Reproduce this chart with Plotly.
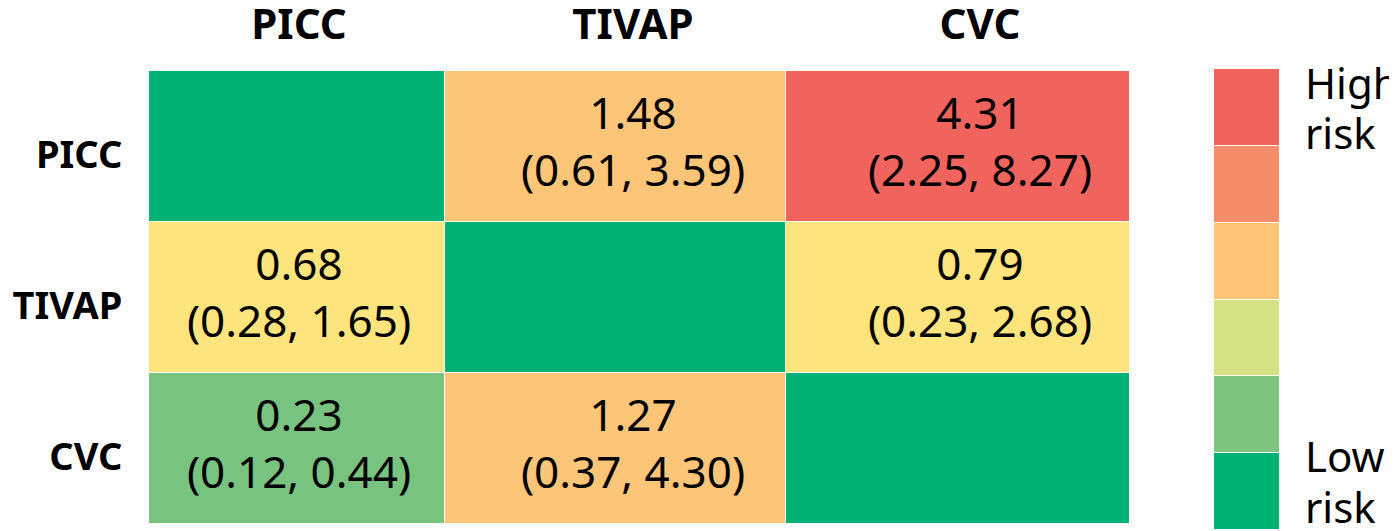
import plotly.graph_objects as go

# ---- data ----
cols = ["PICC", "TIVAP", "CVC"]
rows = ["PICC", "TIVAP", "CVC"]
hr = [[None, 1.48, 4.31],
      [0.68, None, 0.79],
      [0.23, 1.27, None]]
ci_lo = [[None, 0.61, 2.25],
         [0.28, None, 0.23],
         [0.12, 0.37, None]]
ci_hi = [[None, 3.59, 8.27],
         [1.65, None, 2.68],
         [0.44, 4.30, None]]
# colour category for each cell (index into cell_palette)
cell_level = [[0, 3, 4],
              [2, 0, 2],
              [1, 3, 0]]
cell_palette = ["#00b174", "#77c37f", "#fee47c", "#fdc577", "#f1635d"]
legend_palette = ["#00b174", "#80c57f", "#d7e383", "#fec477", "#f58d6b", "#f1635d"]
legend_high = ["High", "risk"]
legend_low = ["Low", "risk"]

# ---- layout constants ----
W, H = 1397, 531
OFF = 8  # page body margin
col_edges = [0, 296, 637, 981]
label_x = [150, 484, 831]
FONT = "Noto Sans"


def discrete_scale(colors):
    n = len(colors)
    scale = []
    for i, c in enumerate(colors):
        scale.append([i / n, c])
        scale.append([(i + 1) / n, c])
    return scale


texts = []
tx, ty = [], []
for r, row in enumerate(rows):
    for c, col in enumerate(cols):
        if hr[r][c] is None:
            continue
        tx.append(label_x[c])
        ty.append(row)
        texts.append(f"{hr[r][c]:.2f}<br>({ci_lo[r][c]:.2f}, {ci_hi[r][c]:.2f})")

fig = go.Figure()
fig.add_trace(go.Heatmap(
    z=cell_level, x=col_edges, y=rows,
    colorscale=discrete_scale(cell_palette),
    zmin=-0.5, zmax=len(cell_palette) - 0.5,
    showscale=False, xgap=1, ygap=1, hoverinfo="skip",
))
fig.add_trace(go.Scatter(
    x=tx, y=ty, mode="text", text=texts,
    textfont=dict(family=FONT, size=44, color="black"),
    hoverinfo="skip", showlegend=False,
))
# legend bar
fig.add_trace(go.Heatmap(
    z=[[i] for i in range(len(legend_palette))],
    x=[0], y=list(range(len(legend_palette))),
    colorscale=discrete_scale(legend_palette),
    zmin=-0.5, zmax=len(legend_palette) - 0.5,
    showscale=False, ygap=1, hoverinfo="skip",
    xaxis="x2", yaxis="y2",
))

ml, mt = 149 - OFF, 60 - OFF
pw, ph = W - ml, H - mt


def px_x(x):
    return (x - OFF - ml) / pw


def px_y(y):
    return 1 - (y - OFF - mt) / ph


def legend_text(txt, y_baseline):
    return dict(text=txt, xref="paper", yref="paper",
                x=px_x(1303), y=px_y(y_baseline), xanchor="left",
                yanchor="bottom", showarrow=False, align="left",
                font=dict(family=FONT, size=42, color="black"))


fig.update_layout(
    width=W, height=H,
    margin=dict(l=ml, r=0, t=mt, b=0, autoexpand=False),
    paper_bgcolor="white", plot_bgcolor="white",
    font=dict(family=FONT, color="black"),
    xaxis=dict(
        domain=[0, px_x(1130)], range=[0, 981], side="top",
        tickmode="array", tickvals=label_x, ticktext=cols,
        ticks="outside", ticklen=14, tickcolor="rgba(0,0,0,0)",
        tickfont=dict(family=FONT, size=42, weight="bold"),
        showgrid=False, zeroline=False, showline=False, automargin=False,
    ),
    yaxis=dict(
        domain=[px_y(524), px_y(71)], autorange="reversed",
        ticks="outside", ticklen=18, tickcolor="rgba(0,0,0,0)",
        tickfont=dict(family=FONT, size=38, weight="bold"),
        ticklabelshift=-8,
        showgrid=False, zeroline=False, showline=False, automargin=False,
    ),
    xaxis2=dict(domain=[px_x(1214), px_x(1279)], visible=False,
                anchor="y2"),
    yaxis2=dict(domain=[px_y(530), px_y(69)], visible=False,
                anchor="x2", range=[-0.5, len(legend_palette) - 0.5]),
    annotations=[
        legend_text(legend_high[0], 113),
        legend_text(legend_high[1], 163),
        legend_text(legend_low[0], 486),
        legend_text(legend_low[1], 537),
    ],
)

fig.write_html("out.html")
